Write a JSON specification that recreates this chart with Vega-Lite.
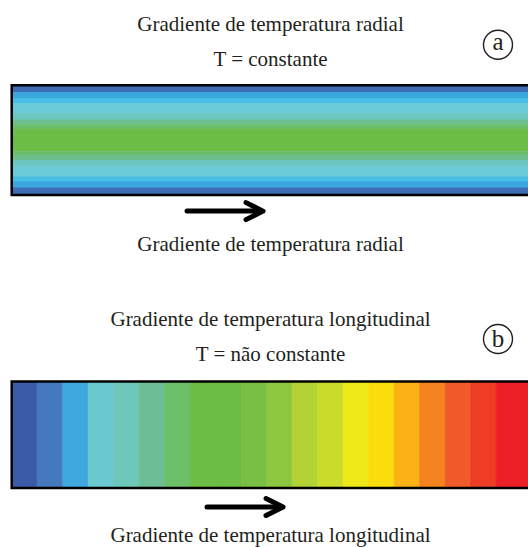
{
  "$schema": "https://vega.github.io/schema/vega-lite/v6.json",
  "padding": 0,
  "spacing": 0,
  "config": {"view": {"stroke": null}, "text": {"font": "Liberation Serif", "color": "#231f20"}},
  "resolve": {"scale": {"x": "independent", "y": "independent", "color": "independent", "stroke": "independent"}},
  "datasets": {
    "radial": [
      {"r0": 0.87, "r1": 1.0, "level": 1},
      {"r0": 0.76, "r1": 0.87, "level": 2},
      {"r0": 0.67, "r1": 0.76, "level": 3},
      {"r0": 0.48, "r1": 0.67, "level": 4},
      {"r0": 0.37, "r1": 0.48, "level": 5},
      {"r0": 0.28, "r1": 0.37, "level": 6},
      {"r0": 0.2, "r1": 0.28, "level": 7},
      {"r0": -0.2, "r1": 0.2, "level": 8},
      {"r0": -0.28, "r1": -0.2, "level": 7},
      {"r0": -0.37, "r1": -0.28, "level": 6},
      {"r0": -0.48, "r1": -0.37, "level": 5},
      {"r0": -0.67, "r1": -0.48, "level": 4},
      {"r0": -0.76, "r1": -0.67, "level": 3},
      {"r0": -0.87, "r1": -0.76, "level": 2},
      {"r0": -1.0, "r1": -0.87, "level": 1}
    ],
    "longitudinal": [
      {"s0": 0, "s1": 1, "level": 1},
      {"s0": 1, "s1": 2, "level": 2},
      {"s0": 2, "s1": 3, "level": 3},
      {"s0": 3, "s1": 4, "level": 4},
      {"s0": 4, "s1": 5, "level": 5},
      {"s0": 5, "s1": 6, "level": 6},
      {"s0": 6, "s1": 7, "level": 7},
      {"s0": 7, "s1": 8, "level": 8},
      {"s0": 8, "s1": 9, "level": 9},
      {"s0": 9, "s1": 10, "level": 10},
      {"s0": 10, "s1": 11, "level": 11},
      {"s0": 11, "s1": 12, "level": 12},
      {"s0": 12, "s1": 13, "level": 13},
      {"s0": 13, "s1": 14, "level": 14},
      {"s0": 14, "s1": 15, "level": 15},
      {"s0": 15, "s1": 16, "level": 16},
      {"s0": 16, "s1": 17, "level": 17},
      {"s0": 17, "s1": 18, "level": 18},
      {"s0": 18, "s1": 19, "level": 19},
      {"s0": 19, "s1": 20.25, "level": 20}
    ]
  },
  "vconcat": [
    {
      "width": 528,
      "height": 262,
      "data": {"values": [{}]},
      "layer": [
        {
          "data": {"name": "radial"},
          "mark": {"type": "rect", "clip": true, "strokeWidth": 0.8},
          "encoding": {
            "x": {"datum": 0, "type": "quantitative", "scale": {"domain": [-0.459, 20.247], "nice": false, "zero": false}, "axis": null},
            "x2": {"datum": 21},
            "y": {"field": "r0", "type": "quantitative", "scale": {"domain": [-2.2206, 2.5561], "nice": false, "zero": false}, "axis": null},
            "y2": {"field": "r1"},
            "color": {"field": "level", "type": "ordinal", "legend": null,
              "scale": {"domain": [1, 2, 3, 4, 5, 6, 7, 8], "range": ["#3e6db6", "#3aa8df", "#48bde5", "#6ccbd8", "#6cc7c0", "#6cc08f", "#6cbf6a", "#6bbd45"]}},
            "stroke": {"field": "level", "type": "ordinal", "legend": null,
              "scale": {"domain": [1, 2, 3, 4, 5, 6, 7, 8], "range": ["#3e6db6", "#3aa8df", "#48bde5", "#6ccbd8", "#6cc7c0", "#6cc08f", "#6cbf6a", "#6bbd45"]}}
          }
        },
        {
          "mark": {"type": "rect", "filled": false, "stroke": "#000000", "strokeWidth": 2.5, "clip": true},
          "encoding": {
            "x": {"datum": 0, "type": "quantitative", "axis": null},
            "x2": {"datum": 21},
            "y": {"datum": -1, "type": "quantitative", "axis": null},
            "y2": {"datum": 1}
          }
        },
        {
          "mark": {"type": "text", "fontSize": 21, "align": "center", "baseline": "alphabetic", "text": "Gradiente de temperatura radial"},
          "encoding": {"x": {"datum": 10.15, "type": "quantitative", "axis": null}, "y": {"datum": 1.996, "type": "quantitative", "axis": null}}
        },
        {
          "mark": {"type": "text", "fontSize": 21, "align": "center", "baseline": "alphabetic", "text": "T = constante"},
          "encoding": {"x": {"datum": 10.15, "type": "quantitative", "axis": null}, "y": {"datum": 1.353, "type": "quantitative", "axis": null}}
        },
        {
          "mark": {"type": "point", "shape": "circle", "size": 841, "filled": false, "stroke": "#231f20", "strokeWidth": 1.4, "opacity": 1},
          "encoding": {"x": {"datum": 19.07, "type": "quantitative", "axis": null}, "y": {"datum": 1.741, "type": "quantitative", "axis": null}}
        },
        {
          "mark": {"type": "text", "fontSize": 25, "align": "center", "baseline": "alphabetic", "text": "a"},
          "encoding": {"x": {"datum": 19.07, "type": "quantitative", "axis": null}, "y": {"datum": 1.641, "type": "quantitative", "axis": null}}
        },
        {
          "mark": {"type": "rule", "stroke": "#000000", "strokeWidth": 5, "strokeCap": "round"},
          "encoding": {"x": {"datum": 6.875, "type": "quantitative", "axis": null}, "x2": {"datum": 9.66}, "y": {"datum": -1.293, "type": "quantitative", "axis": null}}
        },
        {
          "mark": {"type": "point", "shape": "M-1,-0.5L0,0L-1,0.5", "size": 1156, "filled": false, "stroke": "#000000", "strokeWidth": 5, "strokeJoin": "round", "strokeCap": "round", "opacity": 1},
          "encoding": {"x": {"datum": 9.855, "type": "quantitative", "axis": null}, "y": {"datum": -1.293, "type": "quantitative", "axis": null}}
        },
        {
          "mark": {"type": "text", "fontSize": 21, "align": "center", "baseline": "alphabetic", "text": "Gradiente de temperatura radial"},
          "encoding": {"x": {"datum": 10.15, "type": "quantitative", "axis": null}, "y": {"datum": -2.02, "type": "quantitative", "axis": null}}
        }
      ]
    },
    {
      "width": 528,
      "height": 285,
      "data": {"values": [{}]},
      "layer": [
        {
          "data": {"name": "longitudinal"},
          "mark": {"type": "rect", "clip": true, "strokeWidth": 0.8},
          "encoding": {
            "x": {"field": "s0", "type": "quantitative", "scale": {"domain": [-0.459, 20.247], "nice": false, "zero": false}, "axis": null},
            "x2": {"field": "s1"},
            "y": {"datum": -1, "type": "quantitative", "scale": {"domain": [-2.108, 3.244], "nice": false, "zero": false}, "axis": null},
            "y2": {"datum": 1},
            "color": {"field": "level", "type": "ordinal", "legend": null,
              "scale": {"domain": [1, 2, 3, 4, 5, 6, 7, 8, 9, 10, 11, 12, 13, 14, 15, 16, 17, 18, 19, 20],
                "range": ["#3b5ba8", "#4479be", "#3fa8df", "#6bc9d0", "#6dc8b9", "#6cbe96", "#6dc06a", "#6bbd45", "#6cbd43", "#78bf43", "#8dc63f", "#b2d235", "#cbdb2a", "#f0e919", "#fbdc0c", "#fbb217", "#f5831f", "#f15b29", "#ee3c25", "#ec1f26"]}},
            "stroke": {"field": "level", "type": "ordinal", "legend": null,
              "scale": {"domain": [1, 2, 3, 4, 5, 6, 7, 8, 9, 10, 11, 12, 13, 14, 15, 16, 17, 18, 19, 20],
                "range": ["#3b5ba8", "#4479be", "#3fa8df", "#6bc9d0", "#6dc8b9", "#6cbe96", "#6dc06a", "#6bbd45", "#6cbd43", "#78bf43", "#8dc63f", "#b2d235", "#cbdb2a", "#f0e919", "#fbdc0c", "#fbb217", "#f5831f", "#f15b29", "#ee3c25", "#ec1f26"]}}
          }
        },
        {
          "mark": {"type": "rect", "filled": false, "stroke": "#000000", "strokeWidth": 2.5, "clip": true},
          "encoding": {
            "x": {"datum": 0, "type": "quantitative", "axis": null},
            "x2": {"datum": 21},
            "y": {"datum": -1, "type": "quantitative", "axis": null},
            "y2": {"datum": 1}
          }
        },
        {
          "mark": {"type": "text", "fontSize": 21, "align": "center", "baseline": "alphabetic", "text": "Gradiente de temperatura longitudinal"},
          "encoding": {"x": {"datum": 10.15, "type": "quantitative", "axis": null}, "y": {"datum": 2.042, "type": "quantitative", "axis": null}}
        },
        {
          "mark": {"type": "text", "fontSize": 21, "align": "center", "baseline": "alphabetic", "text": "T = não constante"},
          "encoding": {"x": {"datum": 10.15, "type": "quantitative", "axis": null}, "y": {"datum": 1.385, "type": "quantitative", "axis": null}}
        },
        {
          "mark": {"type": "point", "shape": "circle", "size": 841, "filled": false, "stroke": "#231f20", "strokeWidth": 1.4, "opacity": 1},
          "encoding": {"x": {"datum": 19.07, "type": "quantitative", "axis": null}, "y": {"datum": 1.798, "type": "quantitative", "axis": null}}
        },
        {
          "mark": {"type": "text", "fontSize": 25, "align": "center", "baseline": "alphabetic", "text": "b"},
          "encoding": {"x": {"datum": 19.07, "type": "quantitative", "axis": null}, "y": {"datum": 1.648, "type": "quantitative", "axis": null}}
        },
        {
          "mark": {"type": "rule", "stroke": "#000000", "strokeWidth": 5, "strokeCap": "round"},
          "encoding": {"x": {"datum": 7.659, "type": "quantitative", "axis": null}, "x2": {"datum": 10.443}, "y": {"datum": -1.357, "type": "quantitative", "axis": null}}
        },
        {
          "mark": {"type": "point", "shape": "M-1,-0.5L0,0L-1,0.5", "size": 1156, "filled": false, "stroke": "#000000", "strokeWidth": 5, "strokeJoin": "round", "strokeCap": "round", "opacity": 1},
          "encoding": {"x": {"datum": 10.64, "type": "quantitative", "axis": null}, "y": {"datum": -1.357, "type": "quantitative", "axis": null}}
        },
        {
          "mark": {"type": "text", "fontSize": 21, "align": "center", "baseline": "alphabetic", "text": "Gradiente de temperatura longitudinal"},
          "encoding": {"x": {"datum": 10.15, "type": "quantitative", "axis": null}, "y": {"datum": -2.014, "type": "quantitative", "axis": null}}
        }
      ]
    }
  ]
}
